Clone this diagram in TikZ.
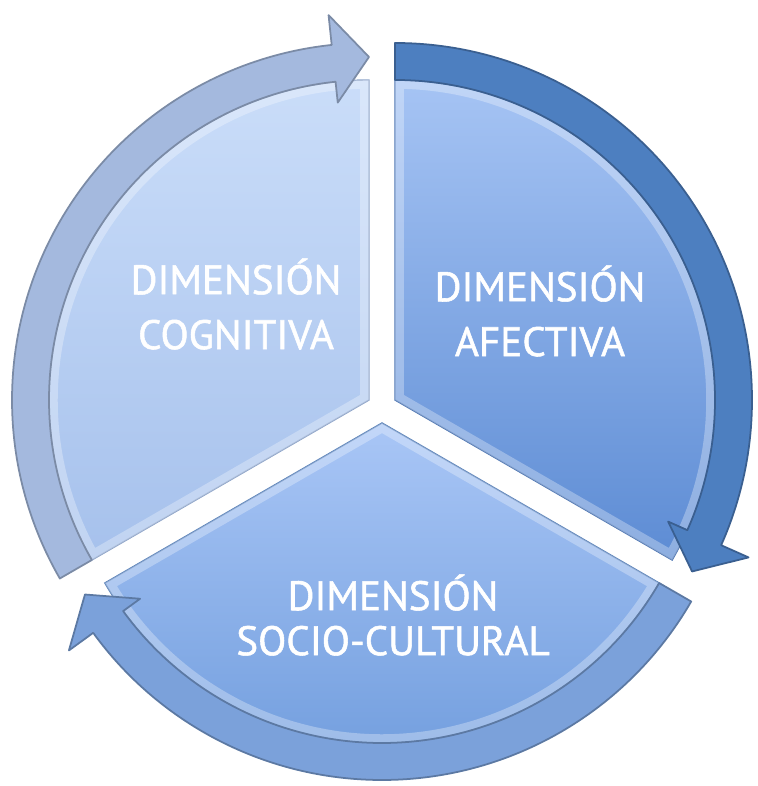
\documentclass[tikz,border=0pt]{standalone}
\usepackage{fontspec}
\setmainfont{PT Sans}
\newfontfamily\dimfont{PT Sans}[FakeBold=1.3]
\usepackage{tikz}
\usetikzlibrary{positioning}

\definecolor{segBtop}{HTML}{A9C6F6}
\definecolor{segBbot}{HTML}{6E9BDC}
\definecolor{segLtop}{HTML}{CADDF9}
\definecolor{segLbot}{HTML}{A6C1EC}
\definecolor{segRtop}{HTML}{A6C4F4}
\definecolor{segRbot}{HTML}{5D8CD4}
\definecolor{bandB}{HTML}{7BA1DA}
\definecolor{bandL}{HTML}{A4B9DE}
\definecolor{bandR}{HTML}{4D7FC0}

\tikzstyle{segment}=[line width=0.4pt]
\tikzstyle{band}=[line width=0.5pt, line join=round]
\tikzstyle{dimtext}=[text=white, align=center, font=\dimfont\fontsize{11.7}{15.6}\selectfont]

\begin{document}
\begin{tikzpicture}[x=0.01cm, y=0.01cm]
    \useasboundingbox (0,0) rectangle (757,786);
    % corners of the three exploded segments
    \coordinate (cB) at (382,363);
    \coordinate (cL) at (369,386);
    \coordinate (cR) at (395,386);

    % segment and arrow band: \a band start, \h head base, \b tip angle
    \foreach \c/\a/\h/\b/\topc/\botc/\bandc in {cB/-30/-144/-150/segBtop/segBbot/bandB, cL/210/96/90/segLtop/segLbot/bandL, cR/90/-24/-30/segRtop/segRbot/bandR} {
        \path[segment, top color=\topc, bottom color=\botc, draw=\botc!85!black]
            (\c) -- ++(\a:320) arc[start angle=\a, end angle=\b, radius=320] -- cycle;
        \begin{scope}
            \clip (\c) -- ++(\a:320) arc[start angle=\a, end angle=\b, radius=320] -- cycle;
            \draw[white, opacity=0.3, line width=5pt]
                (\c) -- ++(\a:320) arc[start angle=\a, end angle=\b, radius=320] -- cycle;
        \end{scope}
        \path[band, fill=\bandc, draw=\bandc!75!black, shift={(\c)}]
            (\a:357) arc[start angle=\a, end angle=\h, radius=357]
            -- (\h:387) -- (\b:343) -- (\h:299) -- (\h:320)
            arc[start angle=\h, end angle=\a, radius=320] -- cycle;
    }

    \node[dimtext] (cognitiva) at (236,482) {DIMENSIÓN\\COGNITIVA};
    \node[dimtext] (afectiva) at (540,475) {DIMENSIÓN\\AFECTIVA};
    \node[dimtext, font=\dimfont\fontsize{11.7}{12.8}\selectfont] (sociocultural) at (393,171) {DIMENSIÓN\\SOCIO-CULTURAL};
\end{tikzpicture}
\end{document}
